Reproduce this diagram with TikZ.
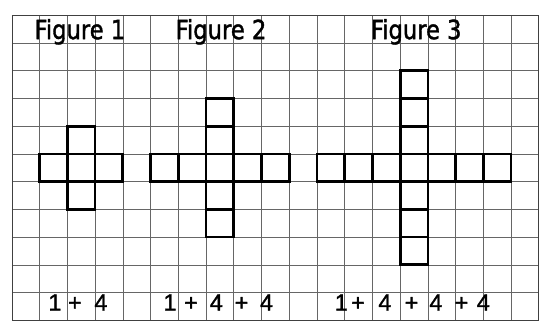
\documentclass[tikz,border=0pt]{standalone}
\usepackage{graphicx}
\usepackage{fontspec}
\newfontfamily\titlefont[FakeBold=1.6]{DejaVu Sans}
\newfontfamily\sumfont[FakeBold=1.4]{Liberation Sans}

\begin{document}
\begin{tikzpicture}[x=1cm, y=1cm,
    gridline/.style={black!60, line width=0.6pt},
    tile/.style={line width=2.8pt, line join=miter},
    title/.style={anchor=base, inner sep=0pt, font=\titlefont\fontsize{27}{27}\selectfont},
    sumtext/.style={anchor=base, inner sep=0pt, font=\sumfont\fontsize{24}{24}\selectfont}]
    \useasboundingbox (-0.43,-0.09) rectangle (19.08,11.55);
    % Squared paper
    \draw[gridline] (0,0) grid (19,11);
    \draw[black!75, line width=0.8pt] (0,0) rectangle (19,11);
    % Figure 1: 1 + 4
    \foreach \c in {1,2,3} \draw[tile] (\c,5) rectangle ++(1,1);
    \foreach \r in {4,6} \draw[tile] (2,\r) rectangle ++(1,1);
    % Figure 2: 1 + 4 + 4
    \foreach \c in {5,...,9} \draw[tile] (\c,5) rectangle ++(1,1);
    \foreach \r in {3,4,6,7} \draw[tile] (7,\r) rectangle ++(1,1);
    % Figure 3: 1 + 4 + 4 + 4
    \foreach \c in {11,...,17} \draw[tile] (\c,5) rectangle ++(1,1);
    \foreach \r in {2,3,4,6,7,8} \draw[tile] (14,\r) rectangle ++(1,1);
    % Titles
    \node[title] (fig1) at (2.45,10.14) {\scalebox{0.86}[1]{Figure 1}};
    \node[title] (fig2) at (7.54,10.14) {\scalebox{0.86}[1]{Figure 2}};
    \node[title] (fig3) at (14.58,10.14) {\scalebox{0.86}[1]{Figure 3}};
    % Sums
    \foreach \x/\t [count=\i] in {1.55/1, 2.27/+, 3.21/4}
        \node[sumtext] (sumA\i) at (\x,0.35) {\t};
    \foreach \x/\t [count=\i] in {5.70/1, 6.46/+, 7.37/4, 8.28/+, 9.18/4}
        \node[sumtext] (sumB\i) at (\x,0.35) {\t};
    \foreach \x/\t [count=\i] in {11.88/1, 12.48/+, 13.45/4, 14.41/+, 15.29/4, 16.21/+, 17.00/4}
        \node[sumtext] (sumC\i) at (\x,0.35) {\t};
\end{tikzpicture}
\end{document}
